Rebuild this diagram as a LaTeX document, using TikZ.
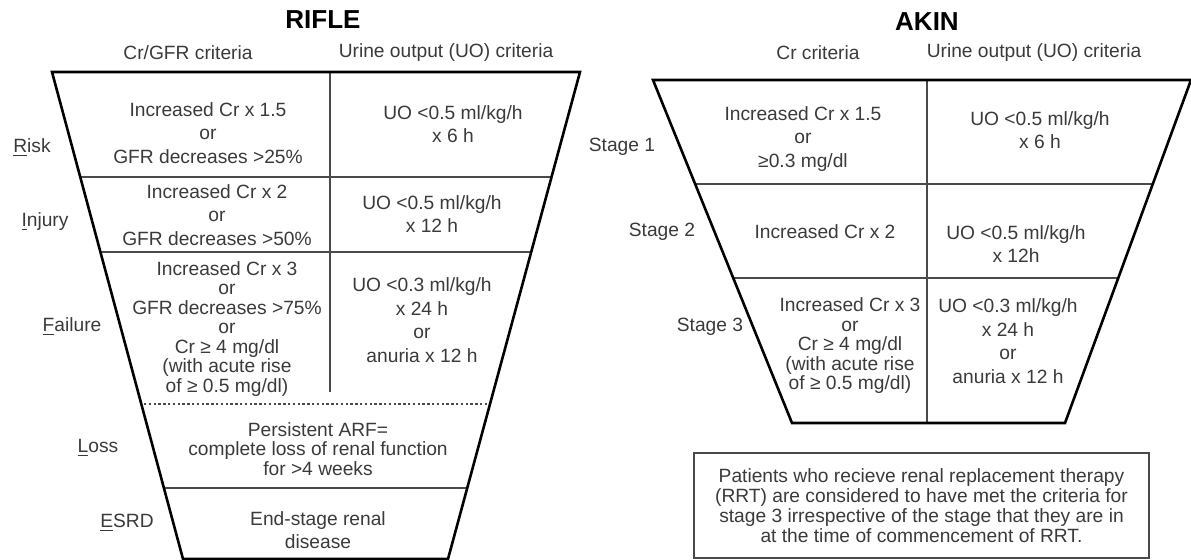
\documentclass[tikz,border=0pt]{standalone}
\usepackage{fontspec}
\setmainfont{Liberation Sans}
\definecolor{inkgray}{HTML}{3A3A3A}
\definecolor{rulegray}{HTML}{4A4A4A}
\begin{document}
\begin{tikzpicture}[x=0.5pt,y=-0.5pt,
    cell/.style={align=center,text=inkgray,inner sep=0pt,font=\fontsize{9.6}{11.75}\selectfont},
    tightcell/.style={cell,font=\fontsize{9.6}{9.75}\selectfont},
    notecell/.style={cell,font=\fontsize{9.6}{9.9}\selectfont},
    rowlabel/.style={text=inkgray,inner sep=0pt,font=\fontsize{9.6}{11}\selectfont},
    heading/.style={inner sep=0pt,font=\fontsize{13}{15}\bfseries\selectfont},
    side/.style={line width=1.3pt,black},
    rowline/.style={line width=1pt,rulegray},
    colline/.style={line width=0.7pt,rulegray}]

    \def\riflefunnel{(52,72) -- (580,72) -- (448,559) -- (183,559) -- cycle}
    \def\akinfunnel{(653,80) -- (1191,80) -- (1065,423) -- (792,423) -- cycle}

    \useasboundingbox (0,0) rectangle (1191,560);

    %RIFLE funnel:
    \begin{scope}
        \clip \riflefunnel;
        \foreach \y in {177,252,488}
            \draw[rowline] (0,\y) -- (600,\y);
        \draw[rowline,line width=0.8pt,dash pattern=on 1.2pt off 1.2pt] (0,404) -- (600,404);
    \end{scope}
    \draw[colline] (330,72) -- (330,392);
    \draw[side] \riflefunnel;

    \node[heading] (rifle) at (323,20) {RIFLE};
    \node[rowlabel] (riflecr) at (188,53) {Cr/GFR criteria};
    \node[rowlabel] (rifleuo) at (446,53) {Urine output (UO) criteria};

    \node[rowlabel] (risk) at (32,148) {\underline{R}isk};
    \node[rowlabel] (injury) at (45,222) {\underline{I}njury};
    \node[rowlabel] (failure) at (72,327) {\underline{F}ailure};
    \node[rowlabel] (loss) at (98,448) {\underline{L}oss};
    \node[rowlabel] (esrd) at (127,523) {\underline{E}SRD};

    \node[cell] (riskcr) at (208,133) {Increased Cr x 1.5\\or\\GFR decreases >25\%};
    \node[cell] (riskuo) at (453,124) {UO <0.5 ml/kg/h\\x 6 h};
    \node[cell] (injurycr) at (217,215) {Increased Cr x 2\\or\\GFR decreases >50\%};
    \node[cell] (injuryuo) at (432,214) {UO <0.5 ml/kg/h\\x 12 h};
    \node[tightcell] (failurecr) at (227,329) {Increased Cr x 3\\or\\GFR decreases >75\%\\or\\Cr ≥ 4 mg/dl\\(with acute rise\\of ≥ 0.5 mg/dl)};
    \node[cell] (failureuo) at (422,320) {UO <0.3 ml/kg/h\\x 24 h\\or\\anuria x 12 h};
    \node[tightcell] (losstext) at (318,449) {Persistent ARF=\\complete loss of renal function\\for >4 weeks};
    \node[cell] (esrdtext) at (318,530) {End-stage renal\\disease};

    %AKIN funnel:
    \begin{scope}
        \clip \akinfunnel;
        \foreach \y in {184,278}
            \draw[rowline] (600,\y) -- (1200,\y);
    \end{scope}
    \draw[colline] (927,80) -- (927,423);
    \draw[side] \akinfunnel;

    \node[heading] (akin) at (927,22) {AKIN};
    \node[rowlabel] (akincr) at (818,53) {Cr criteria};
    \node[rowlabel] (akinuo) at (1034,53) {Urine output (UO) criteria};

    \node[rowlabel] (stage1) at (622,147) {Stage 1};
    \node[rowlabel] (stage2) at (662,232) {Stage 2};
    \node[rowlabel] (stage3) at (710,327) {Stage 3};

    \node[cell] (stage1cr) at (803,139) {Increased Cr x 1.5\\or\\≥0.3 mg/dl};
    \node[cell] (stage1uo) at (1040,130) {UO <0.5 ml/kg/h\\x 6 h};
    \node[cell] (stage2cr) at (825,232) {Increased Cr x 2};
    \node[cell] (stage2uo) at (1016,244) {UO <0.5 ml/kg/h\\x 12h};
    \node[tightcell] (stage3cr) at (850,346) {Increased Cr x 3\\or\\Cr ≥ 4 mg/dl\\(with acute rise\\of ≥ 0.5 mg/dl)};
    \node[cell] (stage3uo) at (1008,341) {UO <0.3 ml/kg/h\\x 24 h\\or\\anuria x 12 h};

    %RRT note:
    \node[notecell,draw=rulegray,line width=0.9pt,minimum width=227.5pt,minimum height=52.5pt]
        (rrtnote) at (921.5,505.5) {Patients who recieve renal replacement therapy\\(RRT) are considered to have met the criteria for\\stage 3 irrespective of the stage that they are in\\at the time of commencement of RRT.};

\end{tikzpicture}
\end{document}
